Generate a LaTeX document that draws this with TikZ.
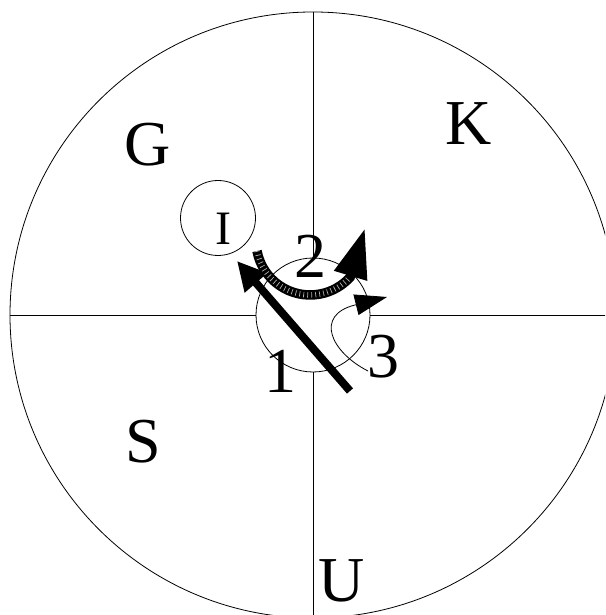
\documentclass[tikz,border=0pt]{standalone}
\usepackage{fontspec}
\setmainfont{Liberation Serif}
\usetikzlibrary{arrows.meta}
\begin{document}
\begin{tikzpicture}[x=1pt,y=1pt,
  ring/.style={circle,draw,line width=0.8pt,inner sep=0pt},
  biglbl/.style={font=\fontsize{64}{64}\selectfont,inner sep=0pt,anchor=base},
  smalllbl/.style={font=\fontsize{48}{48}\selectfont,inner sep=0pt,anchor=base},
  thinline/.style={line width=0.8pt},
  shaft/.style={line width=8pt,-{Triangle[length=29pt,width=28pt]}},
  band/.style={line width=9.5pt,-{Triangle[length=50pt,width=32pt]}},
  ticks/.style={line width=5.5pt,gray!60,dash pattern=on 0.7pt off 3.3pt},
  loopline/.style={line width=0.8pt,-{Triangle[length=32pt,width=21pt]}}]
\clip (0,0) rectangle (605,615);
% circles
\node[ring,minimum size=606pt] (outer) at (313,300) {};
\node[ring,minimum size=114pt] (hub) at (313,300) {};
\node[ring,minimum size=75pt] (ic) at (218,397) {};
% quadrant lines
\draw[thinline] (outer.west) -- (hub.west);
\draw[thinline] (hub.east) -- (outer.east);
\draw[thinline] (outer.north) -- (hub.north);
\draw[thinline] (hub.south) -- (outer.south);
% labels
\node[biglbl] (g) at (148,449) {G};
\node[biglbl] (k) at (469,470) {K};
\node[biglbl] (s) at (143,152) {S};
\node[biglbl] (u) at (342,13) {U};
\node[biglbl] (n1) at (280,222) {1};
\node[biglbl] (n2) at (310,337) {2};
\node[biglbl] (n3) at (383,237) {3};
\node[smalllbl] (il) at (223,370) {I};
% arrow 1
\coordinate (t1) at (350,224);
\coordinate (h1) at (237,354);
\draw[shaft] (t1) -- (h1);
% arrow 2
\coordinate (b2s) at (257,364);
\coordinate (h2) at (365,387);
\draw[band] (b2s) arc[start angle=190.7,end angle=318,radius=54] -- (h2);
\draw[ticks] (b2s) arc[start angle=190.7,end angle=318,radius=54];
% arrow 3
\coordinate (s3) at (368,244);
\coordinate (e3) at (355,310);
\coordinate (h3) at (387,318);
\draw[loopline] (s3) to[out=153,in=194,looseness=1.6] (e3) -- (h3);
\end{tikzpicture}
\end{document}
